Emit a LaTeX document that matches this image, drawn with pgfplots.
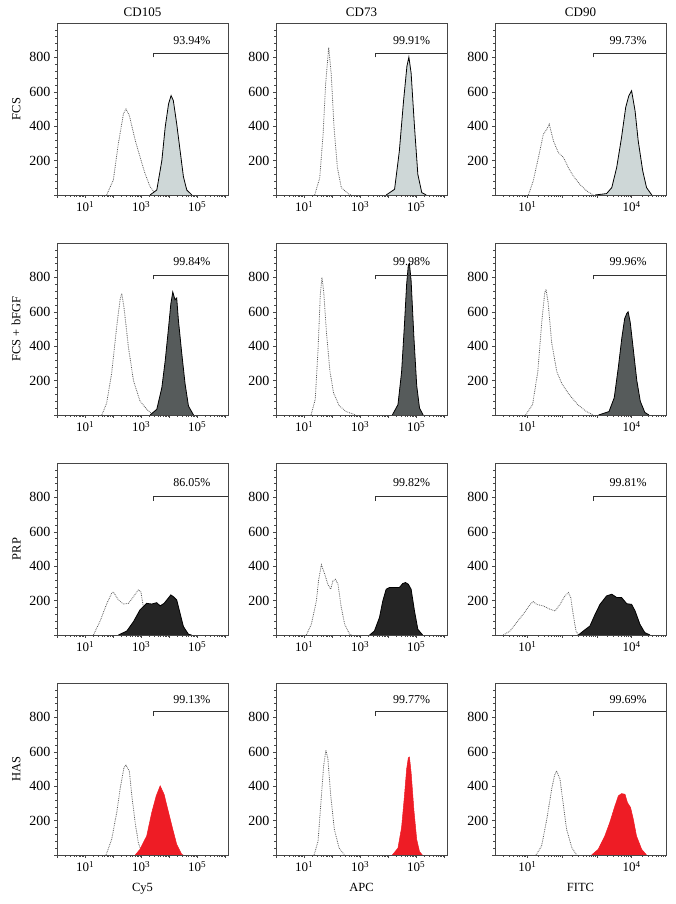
\documentclass[border=0pt]{standalone}
\usepackage{pgfplots}
\pgfplotsset{compat=1.18}
\usepackage{fontspec}
\setmainfont{Liberation Serif}
\definecolor{axgray}{RGB}{70,70,70}
\definecolor{isogray}{RGB}{90,90,90}
\definecolor{fillA}{RGB}{206,215,215}
\definecolor{fillB}{RGB}{86,91,91}
\definecolor{fillC}{RGB}{37,37,37}
\definecolor{fillD}{RGB}{238,28,37}
\pgfplotsset{
 panel/.style={width=171pt,height=172pt,scale only axis,anchor=south west,
  ymin=0,ymax=1000,ytick={0,200,400,600,800},yticklabels={,200,400,600,800},
  minor ytick={40,80,...,960},
  tick align=outside,tick pos=left,
  axis line style={line width=0.7pt,draw=axgray},
  major tick length=3pt,minor tick length=2pt,
  every tick/.style={line width=0.5pt,draw=axgray},
  font=\fontsize{12}{14}\selectfont,
  yticklabel style={font=\fontsize{14}{16}\selectfont},
  xticklabel style={font=\fontsize{13}{15}\selectfont},
  ylabel style={font=\fontsize{12.5}{15}\selectfont,yshift=2pt},
  xlabel style={font=\fontsize{12.5}{15}\selectfont,yshift=-4pt},
  title style={font=\fontsize{13}{15}\selectfont,yshift=-3pt},
  clip=true},
 colA/.style={xmin=0,xmax=6.1,xtick={0,1,2,3,4,5,6},
  xticklabels={,10\textsuperscript{1},,10\textsuperscript{3},,10\textsuperscript{5},},
  minor xtick={0.301,0.477,0.602,0.699,0.778,0.845,0.903,0.954,
   1.301,1.477,1.602,1.699,1.778,1.845,1.903,1.954,
   2.301,2.477,2.602,2.699,2.778,2.845,2.903,2.954,
   3.301,3.477,3.602,3.699,3.778,3.845,3.903,3.954,
   4.301,4.477,4.602,4.699,4.778,4.845,4.903,4.954,
   5.301,5.477,5.602,5.699,5.778,5.845,5.903,5.954}},
 colC/.style={xmin=0.07,xmax=4.99,xtick={1,2,3,4},
  xticklabels={10\textsuperscript{1},,,10\textsuperscript{4}},
  minor xtick={0.301,0.477,0.602,0.699,0.778,0.845,0.903,0.954,
   1.301,1.477,1.602,1.699,1.778,1.845,1.903,1.954,
   2.301,2.477,2.602,2.699,2.778,2.845,2.903,2.954,
   3.301,3.477,3.602,3.699,3.778,3.845,3.903,3.954,
   4.301,4.477,4.602,4.699,4.778,4.845,4.903,4.954}},
 iso/.style={draw=isogray,densely dotted,line width=0.8pt},
 pos/.style={draw=black,line width=0.8pt},
 gate/.style={draw=black!80,line width=0.6pt},
}
\begin{document}
\begin{tikzpicture}
\path[use as bounding box] (0pt,0pt) rectangle (676pt,904pt);
% ---------- Row 1: FCS ----------
\begin{axis}[panel,colA,at={(57pt,709pt)},title={CD105},ylabel={FCS}]
\addplot[iso] coordinates {(1.77,0)(2.01,87)(2.19,300)(2.37,472)(2.46,500)(2.58,462)(2.79,318)(2.96,222)(3.14,125)(3.32,48)(3.50,10)(3.62,0)};
\addplot[pos,fill=fillA] coordinates {(3.32,0)(3.56,29)(3.74,200)(3.86,395)(3.98,530)(4.07,578)(4.15,549)(4.27,414)(4.39,260)(4.51,106)(4.63,29)(4.81,0)};
\addplot[gate] coordinates {(3.43,800)(3.43,825)(6.1,825)};
\node at (axis cs:4.81,895) {93.94\%};
\end{axis}
\begin{axis}[panel,colA,at={(276pt,709pt)},title={CD73}]
\addplot[iso] coordinates {(1.38,0)(1.56,100)(1.68,353)(1.77,645)(1.88,858)(1.97,703)(2.07,392)(2.19,159)(2.33,43)(2.57,8)(2.68,0)};
\addplot[pos,fill=fillA] coordinates {(3.93,0)(4.23,33)(4.40,256)(4.55,547)(4.67,748)(4.74,802)(4.82,709)(4.94,398)(5.06,120)(5.20,14)(5.36,0)};
\addplot[gate] coordinates {(3.54,800)(3.54,825)(6.1,825)};
\node at (axis cs:4.84,895) {99.91\%};
\end{axis}
\begin{axis}[panel,colC,at={(495pt,709pt)},title={CD90}]
\addplot[iso] coordinates {(1.03,0)(1.17,82)(1.32,218)(1.46,353)(1.56,382)(1.63,412)(1.75,315)(1.89,247)(2.04,218)(2.18,159)(2.32,111)(2.51,62)(2.71,23)(2.90,0)};
\addplot[pos,fill=fillA] coordinates {(2.95,0)(3.28,8)(3.43,43)(3.57,159)(3.71,334)(3.83,509)(3.92,577)(4.00,606)(4.10,489)(4.19,315)(4.32,140)(4.43,43)(4.58,0)};
\addplot[gate] coordinates {(2.90,800)(2.90,825)(4.99,825)};
\node at (axis cs:3.90,895) {99.73\%};
\end{axis}
% ---------- Row 2: FCS + bFGF ----------
\begin{axis}[panel,colA,at={(57pt,489pt)},ylabel={FCS + bFGF}]
\addplot[iso] coordinates {(1.60,0)(1.77,68)(1.95,243)(2.13,515)(2.25,670)(2.31,707)(2.39,625)(2.55,392)(2.73,198)(2.96,82)(3.20,33)(3.38,8)(3.50,0)};
\addplot[pos,fill=fillB] coordinates {(3.32,0)(3.56,33)(3.74,159)(3.86,315)(3.98,509)(4.06,645)(4.13,715)(4.21,670)(4.27,680)(4.33,553)(4.45,359)(4.57,180)(4.69,52)(4.87,0)};
\addplot[gate] coordinates {(3.43,788)(3.43,815)(6.1,815)};
\node at (axis cs:4.81,892) {99.84\%};
\end{axis}
\begin{axis}[panel,colA,at={(276pt,489pt)}]
\addplot[iso] coordinates {(1.25,0)(1.40,90)(1.50,380)(1.58,700)(1.64,800)(1.70,720)(1.80,480)(1.92,260)(2.05,130)(2.25,55)(2.50,20)(2.85,0)};
\addplot[pos,fill=fillB] coordinates {(4.15,0)(4.35,60)(4.48,250)(4.58,520)(4.66,760)(4.72,870)(4.76,880)(4.82,780)(4.92,450)(5.02,170)(5.12,40)(5.25,0)};
\addplot[gate] coordinates {(3.54,788)(3.54,815)(6.1,815)};
\node at (axis cs:4.84,892) {99.98\%};
\end{axis}
\begin{axis}[panel,colC,at={(495pt,489pt)}]
\addplot[iso] coordinates {(0.95,0)(1.15,60)(1.30,250)(1.42,550)(1.50,710)(1.54,730)(1.60,650)(1.70,420)(1.85,250)(2.00,180)(2.20,120)(2.45,60)(2.70,20)(2.90,0)};
\addplot[pos,fill=fillB] coordinates {(3.05,0)(3.35,20)(3.50,100)(3.62,280)(3.72,450)(3.80,560)(3.86,590)(3.90,600)(3.96,540)(4.05,380)(4.15,200)(4.25,80)(4.38,15)(4.50,0)};
\addplot[gate] coordinates {(2.90,788)(2.90,815)(4.99,815)};
\node at (axis cs:3.90,892) {99.96\%};
\end{axis}
% ---------- Row 3: PRP ----------
\begin{axis}[panel,colA,at={(57pt,269pt)},ylabel={PRP}]
\addplot[iso] coordinates {(1.30,0)(1.54,82)(1.77,180)(1.95,243)(2.01,250)(2.19,204)(2.37,180)(2.55,184)(2.73,223)(2.90,262)(2.99,252)(3.08,165)(3.20,62)(3.32,4)(3.40,0)};
\addplot[pos,fill=fillC] coordinates {(2.19,0)(2.49,23)(2.73,78)(2.96,146)(3.20,184)(3.38,180)(3.56,188)(3.68,169)(3.82,184)(3.92,204)(4.06,233)(4.15,223)(4.27,204)(4.39,126)(4.51,49)(4.69,4)(4.80,0)};
\addplot[gate] coordinates {(3.43,780)(3.43,806)(6.1,806)};
\node at (axis cs:4.81,885) {86.05\%};
\end{axis}
\begin{axis}[panel,colA,at={(276pt,269pt)}]
\addplot[iso] coordinates {(1.08,0)(1.26,62)(1.44,198)(1.52,320)(1.62,408)(1.74,353)(1.85,295)(1.95,266)(2.03,314)(2.12,324)(2.21,295)(2.33,159)(2.45,62)(2.63,4)(2.70,0)};
\addplot[pos,fill=fillC] coordinates {(3.34,0)(3.51,23)(3.69,101)(3.81,198)(3.93,266)(4.05,276)(4.23,276)(4.40,276)(4.52,299)(4.62,305)(4.72,295)(4.82,266)(4.94,140)(5.06,33)(5.23,0)};
\addplot[gate] coordinates {(3.54,780)(3.54,806)(6.1,806)};
\node at (axis cs:4.84,885) {99.82\%};
\end{axis}
\begin{axis}[panel,colC,at={(495pt,269pt)}]
\addplot[iso] coordinates {(0.31,0)(0.50,23)(0.69,72)(0.88,120)(1.08,178)(1.17,194)(1.27,178)(1.46,169)(1.65,150)(1.80,140)(1.94,178)(2.08,227)(2.18,247)(2.25,218)(2.32,120)(2.40,23)(2.47,0)};
\addplot[pos,fill=fillC] coordinates {(2.47,0)(2.61,23)(2.80,52)(2.95,120)(3.09,178)(3.28,227)(3.43,237)(3.57,218)(3.71,218)(3.86,182)(4.00,178)(4.10,140)(4.24,62)(4.38,14)(4.53,0)};
\addplot[gate] coordinates {(2.90,780)(2.90,806)(4.99,806)};
\node at (axis cs:3.90,885) {99.81\%};
\end{axis}
% ---------- Row 4: HAS ----------
\begin{axis}[panel,colA,at={(57pt,49pt)},ylabel={HAS},xlabel={Cy5}]
\addplot[iso] coordinates {(1.75,0)(1.95,91)(2.13,247)(2.27,402)(2.39,509)(2.46,522)(2.58,489)(2.67,344)(2.79,188)(2.90,72)(3.02,14)(3.08,0)};
\addplot[draw=fillD,fill=fillD,line width=0.5pt] coordinates {(2.79,0)(2.96,33)(3.20,111)(3.38,247)(3.54,344)(3.68,402)(3.82,353)(3.98,247)(4.13,150)(4.27,62)(4.45,4)(4.50,0)};
\addplot[gate] coordinates {(3.43,810)(3.43,835)(6.1,835)};
\node at (axis cs:4.81,903) {99.13\%};
\end{axis}
\begin{axis}[panel,colA,at={(276pt,49pt)},xlabel={APC}]
\addplot[iso] coordinates {(1.36,0)(1.50,80)(1.60,300)(1.70,520)(1.78,610)(1.85,560)(1.95,350)(2.08,150)(2.25,40)(2.45,0)};
\addplot[draw=fillD,fill=fillD,line width=0.5pt] coordinates {(4.15,0)(4.35,40)(4.48,160)(4.58,340)(4.66,500)(4.72,565)(4.76,570)(4.82,480)(4.92,260)(5.02,90)(5.12,20)(5.22,0)};
\addplot[gate] coordinates {(3.54,810)(3.54,835)(6.1,835)};
\node at (axis cs:4.84,903) {99.77\%};
\end{axis}
\begin{axis}[panel,colC,at={(495pt,49pt)},xlabel={FITC}]
\addplot[iso] coordinates {(1.25,0)(1.41,52)(1.56,208)(1.70,383)(1.78,460)(1.84,489)(1.94,441)(2.04,285)(2.13,150)(2.28,43)(2.42,0)};
\addplot[draw=fillD,fill=fillD,line width=0.5pt] coordinates {(2.85,0)(3.04,33)(3.23,111)(3.37,188)(3.52,285)(3.62,344)(3.71,357)(3.81,353)(3.88,305)(3.97,276)(4.05,208)(4.14,111)(4.29,33)(4.43,0)};
\addplot[gate] coordinates {(2.90,810)(2.90,835)(4.99,835)};
\node at (axis cs:3.90,903) {99.69\%};
\end{axis}
\end{tikzpicture}
\end{document}
